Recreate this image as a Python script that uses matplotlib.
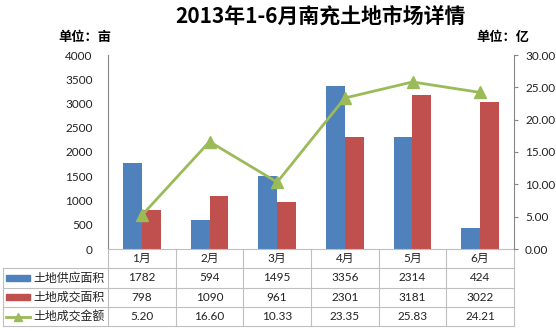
import numpy as np
import matplotlib
matplotlib.use('Agg')
import matplotlib.pyplot as plt
import matplotlib.transforms as mtransforms
from matplotlib.lines import Line2D
from matplotlib.patches import Rectangle
from matplotlib.ticker import FormatStrFormatter

plt.rcParams['font.family'] = ['Lato', 'Noto Sans CJK SC', 'DejaVu Sans']

# 数据
months = ['1月', '2月', '3月', '4月', '5月', '6月']
supply = [1782, 594, 1495, 3356, 2314, 424]        # 土地供应面积（亩）
deal = [798, 1090, 961, 2301, 3181, 3022]          # 土地成交面积（亩）
amount = [5.20, 16.60, 10.33, 23.35, 25.83, 24.21]  # 土地成交金额（亿）
series_names = ['土地供应面积', '土地成交面积', '土地成交金额']

blue = '#4F81BD'
red = '#C0504D'
green = '#9BBB59'
line_gray = '#BFBFBF'
axis_gray = '#868686'

W, H = 556, 331
fig = plt.figure(figsize=(W / 100, H / 100), dpi=100)
ax = fig.add_axes([108 / W, 1 - 249 / H, 406 / W, 194 / H])

x = np.arange(len(months))
w = 0.28
ax.bar(x - w / 2, supply, w, color=blue, zorder=2)
ax.bar(x + w / 2, deal, w, color=red, zorder=2)
ax.set_xlim(-0.5, len(months) - 0.5)
ax.set_ylim(0, 4000)
ax.set_yticks(range(0, 4001, 500))
ax.set_xticks([])
ax.tick_params(axis='y', length=0, pad=11, labelsize=8.5, labelcolor='#222222')
for s in ['top', 'right']:
    ax.spines[s].set_visible(False)
ax.spines['left'].set_color(axis_gray)
ax.spines['bottom'].set_color(line_gray)

ax2 = ax.twinx()
ax2.plot(x, amount, color=green, lw=2, marker='^', ms=8, zorder=3)
ax2.set_ylim(0, 30)
ax2.set_yticks(np.arange(0, 30.1, 5))
ax2.yaxis.set_major_formatter(FormatStrFormatter('%.2f'))
ax2.tick_params(axis='y', length=3, pad=5, labelsize=8.5, color=axis_gray,
                labelcolor='#222222')
for s in ['top', 'left', 'bottom']:
    ax2.spines[s].set_visible(False)
ax2.spines['right'].set_color(axis_gray)

# 数据表
r = 19.3 / 194
xl = (3 - 108) / 406
blend = mtransforms.blended_transform_factory(ax.transData, ax.transAxes)

def hline(x0, x1, y):
    ax.add_line(Line2D([x0, x1], [y, y], transform=ax.transAxes, color=line_gray,
                       lw=0.8, clip_on=False))

def vline(xx, y0, y1, trans):
    ax.add_line(Line2D([xx, xx], [y0, y1], transform=trans, color=line_gray,
                       lw=0.8, clip_on=False))

for k in range(1, 5):
    hline(xl, 1, -k * r)
vline(xl, -r, -4 * r, ax.transAxes)
for b in np.arange(-0.5, len(months), 1.0):
    vline(b, 0, -4 * r, blend)

tkw = dict(fontsize=8.5, ha='center', va='center', color='#222222', clip_on=False)
for i, m in enumerate(months):
    ax.text(i, -0.5 * r, m, transform=blend, **tkw)
    ax.text(i, -1.5 * r, f'{supply[i]}', transform=blend, **tkw)
    ax.text(i, -2.5 * r, f'{deal[i]}', transform=blend, **tkw)
    ax.text(i, -3.5 * r, f'{amount[i]:.2f}', transform=blend, **tkw)

sx0, sx1 = (6 - 108) / 406, (30 - 108) / 406
sh = 6 / 194
for k, c in enumerate([blue, red]):
    yc = -(k + 1.5) * r
    ax.add_patch(Rectangle((sx0, yc - sh / 2), sx1 - sx0, sh, transform=ax.transAxes,
                           color=c, clip_on=False))
ax.add_line(Line2D([sx0, sx1], [-3.5 * r] * 2, transform=ax.transAxes, color=green,
                   lw=2, clip_on=False))
ax.add_line(Line2D([(sx0 + sx1) / 2], [-3.5 * r], transform=ax.transAxes, color=green,
                   marker='^', ms=6, clip_on=False))
for k, name in enumerate(series_names):
    ax.text((33 - 108) / 406, -(k + 1.5) * r, name, transform=ax.transAxes,
            fontsize=8.6, ha='left', va='center', color='#222222', clip_on=False)

# 标题与单位
fig.text(320 / W, 1 - 16 / H, '2013年1-6月南充土地市场详情', fontsize=15,
         fontweight='bold', ha='center', va='center',
         family=['Noto Sans CJK SC', 'DejaVu Sans'])
fig.text(85 / W, 1 - 37 / H, '单位：亩', fontsize=9.5, fontweight='bold',
         ha='center', va='center', family=['Noto Sans CJK SC', 'DejaVu Sans'])
fig.text(503 / W, 1 - 37 / H, '单位：亿', fontsize=9.5, fontweight='bold',
         ha='center', va='center', family=['Noto Sans CJK SC', 'DejaVu Sans'])

fig.savefig('out.png', dpi=100)
